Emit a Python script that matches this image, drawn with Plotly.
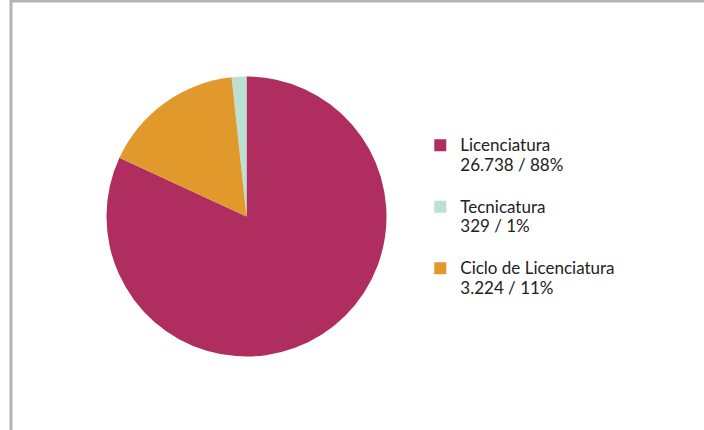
import plotly.graph_objects as go

categories = ["Licenciatura", "Tecnicatura", "Ciclo de Licenciatura"]
count_labels = ["26.738", "329", "3.224"]
percent_labels = ["88%", "1%", "11%"]
# slice sizes (share of the circle, %)
slice_shares = [81.9, 1.7, 16.4]
colors = ["#B02E5F", "#BDE0D4", "#E0992A"]

legend_names = [
    f"<span style='font-size:17px'>{c}</span><br><span style='font-size:17px'>{n} / {p}</span><br> "
    for c, n, p in zip(categories, count_labels, percent_labels)
]

W, H = 704, 430
cx, cy, r = 246.5, 216.5, 140

fig = go.Figure(go.Pie(
    labels=legend_names,
    values=slice_shares,
    marker=dict(colors=colors, line=dict(width=0)),
    sort=False,
    direction="counterclockwise",
    rotation=0,
    textinfo="none",
    hoverinfo="none",
    domain=dict(x=[(cx - r) / W, (cx + r) / W], y=[(H - cy - r) / H, (H - cy + r) / H]),
))

fig.update_layout(
    width=W, height=H,
    margin=dict(l=0, r=0, t=0, b=0),
    paper_bgcolor="white",
    font=dict(family="Lato, sans-serif", size=15, color="#222222"),
    legend=dict(
        x=0.597, y=0.70, xanchor="left", yanchor="top",
        valign="top", tracegroupgap=0,
        font=dict(size=15, color="#222222"),
        bgcolor="rgba(0,0,0,0)",
    ),
    shapes=[
        dict(type="line", xref="paper", yref="paper", x0=11 / W, x1=11 / W, y0=0, y1=1,
             line=dict(color="#B3B3B3", width=3)),
        dict(type="line", xref="paper", yref="paper", x0=11 / W, x1=1, y0=1 - 1 / H, y1=1 - 1 / H,
             line=dict(color="#B3B3B3", width=3)),
    ],
)

fig.write_html("out.html", config={"displayModeBar": False},
               post_script="document.body.style.margin='0';")
